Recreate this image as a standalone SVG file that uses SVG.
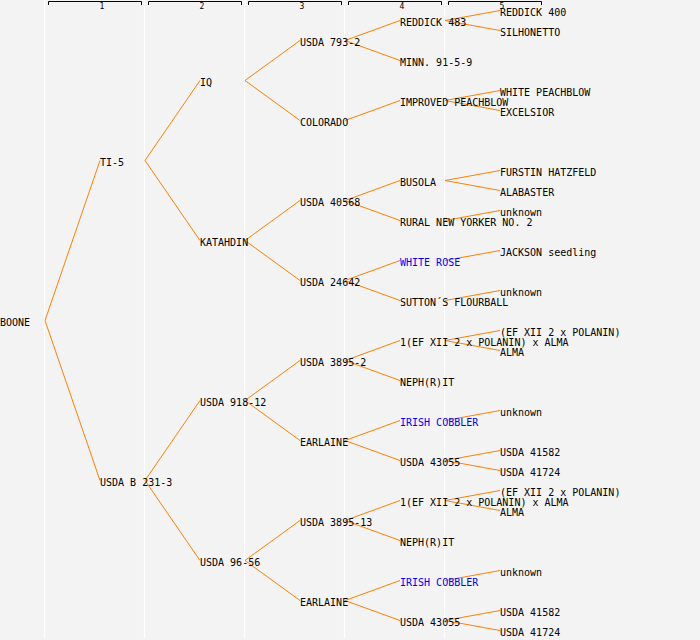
<svg xmlns="http://www.w3.org/2000/svg" width="700" height="640" viewBox="0 0 700 640">
<style>
text{font-family:"DejaVu Sans Mono","Liberation Mono",monospace;font-size:10px;fill:#000}
.b{fill:#0000ff}
.hd{font-size:8px;text-anchor:middle}
.sep{stroke:#ffffff;stroke-width:1.2;fill:none}
.br{stroke:#000;stroke-width:1;fill:none}
.c{stroke:#ff8000;stroke-width:1;fill:none}
</style>
<rect x="0" y="0" width="700" height="640" fill="#f3f3f3"/>
<g id="columns">
<path class="sep" d="M44.5,0V638M144.5,0V638M244.5,0V638M344.5,0V638M444.5,0V638"/>
<path class="br" d="M48.5,5V1.5H141.5V5M148.5,5V1.5H241.5V5M248.5,5V1.5H341.5V5M348.5,5V1.5H441.5V5M448.5,5V1.5H541.5V5"/>
<text class="hd" x="102" y="9">1</text>
<text class="hd" x="202" y="9">2</text>
<text class="hd" x="302" y="9">3</text>
<text class="hd" x="402" y="9">4</text>
<text class="hd" x="502" y="9">5</text>
</g>
<g id="connectors">
<path class="c" d="M100,160.5L45,320.5L100,480.5"/>
<path class="c" d="M200,80.5L145,160.5L200,240.5"/>
<path class="c" d="M200,400.5L145,480.5L200,560.5"/>
<path class="c" d="M300,40.5L245,80.5L300,120.5"/>
<path class="c" d="M300,200.5L245,240.5L300,280.5"/>
<path class="c" d="M300,360.5L245,400.5L300,440.5"/>
<path class="c" d="M300,520.5L245,560.5L300,600.5"/>
<path class="c" d="M400,20.5L345,40.5L400,60.5"/>
<path class="c" d="M345,120.5L400,100.5"/>
<path class="c" d="M400,180.5L345,200.5L400,220.5"/>
<path class="c" d="M400,260.5L345,280.5L400,300.5"/>
<path class="c" d="M400,340.5L345,360.5L400,380.5"/>
<path class="c" d="M400,420.5L345,440.5L400,460.5"/>
<path class="c" d="M400,500.5L345,520.5L400,540.5"/>
<path class="c" d="M400,580.5L345,600.5L400,620.5"/>
<path class="c" d="M500,10.5L445,20.5L500,30.5"/>
<path class="c" d="M500,90.5L445,100.5L500,110.5"/>
<path class="c" d="M500,170.5L445,180.5L500,190.5"/>
<path class="c" d="M445,220.5L500,210.5"/>
<path class="c" d="M445,260.5L500,250.5"/>
<path class="c" d="M445,300.5L500,290.5"/>
<path class="c" d="M500,330.5L445,340.5L500,350.5"/>
<path class="c" d="M445,420.5L500,410.5"/>
<path class="c" d="M500,450.5L445,460.5L500,470.5"/>
<path class="c" d="M500,490.5L445,500.5L500,510.5"/>
<path class="c" d="M445,580.5L500,570.5"/>
<path class="c" d="M500,610.5L445,620.5L500,630.5"/>
</g>
<g id="n-boone"><text x="0" y="326">BOONE</text></g>
<g id="n-ti5"><text x="100" y="166">TI-5</text></g>
<g id="n-usdab2313"><text x="100" y="486">USDA B 231-3</text></g>
<g id="n-iq"><text x="200" y="86">IQ</text></g>
<g id="n-katahdin"><text x="200" y="246">KATAHDIN</text></g>
<g id="n-usda91812"><text x="200" y="406">USDA 918-12</text></g>
<g id="n-usda9656"><text x="200" y="566">USDA 96-56</text></g>
<g id="n-usda7932"><text x="300" y="46">USDA 793-2</text></g>
<g id="n-colorado"><text x="300" y="126">COLORADO</text></g>
<g id="n-usda40568"><text x="300" y="206">USDA 40568</text></g>
<g id="n-usda24642"><text x="300" y="286">USDA 24642</text></g>
<g id="n-usda38952"><text x="300" y="366">USDA 3895-2</text></g>
<g id="n-earlaine1"><text x="300" y="446">EARLAINE</text></g>
<g id="n-usda389513"><text x="300" y="526">USDA 3895-13</text></g>
<g id="n-earlaine2"><text x="300" y="606">EARLAINE</text></g>
<g id="n-reddick483"><text x="400" y="26">REDDICK 483</text></g>
<g id="n-minn"><text x="400" y="66">MINN. 91-5-9</text></g>
<g id="n-imppeach"><text x="400" y="106">IMPROVED PEACHBLOW</text></g>
<g id="n-busola"><text x="400" y="186">BUSOLA</text></g>
<g id="n-rural"><text x="400" y="226">RURAL NEW YORKER NO. 2</text></g>
<g id="n-whiterose"><text class="b" x="400" y="266">WHITE ROSE</text></g>
<g id="n-sutton"><text x="400" y="306">SUTTON´S FLOURBALL</text></g>
<g id="n-efalma1"><text x="400" y="346">1(EF XII 2 x POLANIN) x ALMA</text></g>
<g id="n-nephrit1"><text x="400" y="386">NEPH(R)IT</text></g>
<g id="n-irish1"><text class="b" x="400" y="426">IRISH COBBLER</text></g>
<g id="n-usda43055a"><text x="400" y="466">USDA 43055</text></g>
<g id="n-efalma2"><text x="400" y="506">1(EF XII 2 x POLANIN) x ALMA</text></g>
<g id="n-nephrit2"><text x="400" y="546">NEPH(R)IT</text></g>
<g id="n-irish2"><text class="b" x="400" y="586">IRISH COBBLER</text></g>
<g id="n-usda43055b"><text x="400" y="626">USDA 43055</text></g>
<g id="n-reddick400"><text x="500" y="16">REDDICK 400</text></g>
<g id="n-silhonetto"><text x="500" y="36">SILHONETTO</text></g>
<g id="n-whitepeach"><text x="500" y="96">WHITE PEACHBLOW</text></g>
<g id="n-excelsior"><text x="500" y="116">EXCELSIOR</text></g>
<g id="n-furstin"><text x="500" y="176">FURSTIN HATZFELD</text></g>
<g id="n-alabaster"><text x="500" y="196">ALABASTER</text></g>
<g id="n-unknown1"><text x="500" y="216">unknown</text></g>
<g id="n-jackson"><text x="500" y="256">JACKSON seedling</text></g>
<g id="n-unknown2"><text x="500" y="296">unknown</text></g>
<g id="n-efpol1"><text x="500" y="336">(EF XII 2 x POLANIN)</text></g>
<g id="n-alma1"><text x="500" y="356">ALMA</text></g>
<g id="n-unknown3"><text x="500" y="416">unknown</text></g>
<g id="n-usda41582a"><text x="500" y="456">USDA 41582</text></g>
<g id="n-usda41724a"><text x="500" y="476">USDA 41724</text></g>
<g id="n-efpol2"><text x="500" y="496">(EF XII 2 x POLANIN)</text></g>
<g id="n-alma2"><text x="500" y="516">ALMA</text></g>
<g id="n-unknown4"><text x="500" y="576">unknown</text></g>
<g id="n-usda41582b"><text x="500" y="616">USDA 41582</text></g>
<g id="n-usda41724b"><text x="500" y="636">USDA 41724</text></g>
</svg>
